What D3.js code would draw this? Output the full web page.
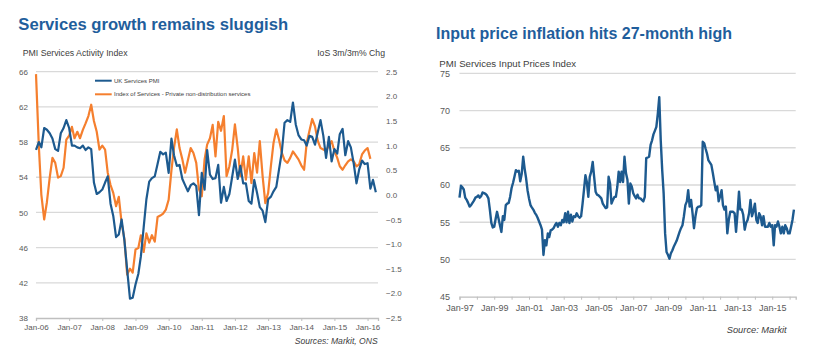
<!DOCTYPE html>
<html><head><meta charset="utf-8">
<script src="https://cdn.jsdelivr.net/npm/d3@7"></script>
<style>
body{margin:0;background:#fff;}
svg{display:block;font-family:"Liberation Sans",Arial,sans-serif;}
</style></head><body>
<svg id="c" width="818" height="359"></svg>
<script>
// ---------------- DATA ----------------
const pmiStart = "Jan-06";
const pmiValues = [
 57.1,58.0,57.4,59.6,59.4,59.0,58.4,57.2,57.0,59.0,59.6,60.5,
 59.6,57.6,57.6,57.4,57.3,57.6,57.1,57.4,57.2,53.4,52.1,52.3,
 52.6,53.4,54.1,51.0,49.6,47.2,47.5,49.2,46.8,43.5,40.2,40.3,
 41.8,43.0,45.0,48.3,51.5,53.5,53.9,54.1,55.5,56.9,56.6,56.8,
 54.5,58.4,56.5,55.3,55.4,53.8,53.1,52.4,53.1,53.3,53.0,49.7,
 54.5,52.6,57.1,54.3,53.8,53.9,55.4,51.1,52.9,51.3,52.1,54.0,
 56.0,53.8,55.3,53.3,53.3,51.3,51.0,53.7,52.2,50.6,50.2,48.9,
 51.5,51.8,52.4,52.9,54.9,56.9,60.2,60.5,60.3,62.5,60.0,58.8,
 58.3,58.2,57.6,58.7,58.6,57.7,59.1,60.5,58.7,56.2,58.6,55.8,
 57.2,56.7,58.9,59.5,56.5,58.1,57.4,55.6,53.3,54.9,55.9,55.5,
 55.6,52.7,53.7,52.3
];
const iosStart = "Jan-06";
const iosValues = [
 2.45,1.00,0.00,-0.50,-0.15,0.35,0.75,0.65,0.35,0.38,0.55,1.12,
 1.20,1.38,1.15,1.28,1.15,1.32,1.45,1.60,1.83,1.50,1.28,0.92,
 1.00,0.92,0.45,0.20,0.04,-0.23,-0.04,-0.57,-0.90,-1.62,-1.50,-1.58,
 -1.11,-1.08,-0.82,-1.16,-0.78,-0.97,-0.82,-0.95,-0.45,-0.42,-0.38,-0.30,
 -0.10,0.50,0.95,1.33,0.95,0.72,0.45,0.70,0.95,0.85,0.65,0.11,
 -0.03,0.72,1.02,1.15,1.42,0.78,1.48,1.30,1.60,0.38,0.58,0.90,
 1.43,0.95,0.38,0.78,0.31,0.78,0.24,0.85,0.45,1.09,0.38,-0.17,
 0.04,0.60,1.05,1.33,1.12,0.85,0.70,0.65,0.75,0.88,0.80,0.72,
 0.60,0.51,1.05,1.30,1.54,1.39,1.10,0.95,0.92,0.89,1.00,1.09,
 0.89,0.75,0.58,0.51,0.60,0.68,0.72,0.68,0.58,0.62,0.82,0.90,
 0.95,0.73
];
const priceStart = "Jan-97";
const priceValues = [
 58.3,59.9,59.7,59.4,58.3,58.0,57.6,57.1,57.3,57.6,57.9,58.3,
 58.4,58.6,58.3,58.5,59.0,58.9,58.8,58.6,58.2,56.7,54.9,54.3,
 54.4,55.5,56.4,55.5,54.6,53.7,55.8,55.3,57.3,57.5,57.6,58.4,
 59.6,60.3,61.1,62.0,61.8,61.9,60.5,61.5,63.8,62.2,60.9,59.3,
 58.2,57.3,57.0,56.7,56.3,56.0,55.6,55.1,54.6,54.0,50.6,52.6,
 51.9,53.5,53.0,53.9,54.0,54.2,54.6,54.9,54.4,54.9,54.6,55.3,
 55.0,56.2,55.0,56.4,54.9,56.0,55.1,55.8,55.7,56.2,55.8,55.6,
 55.8,57.5,59.3,61.3,60.4,58.4,61.1,61.8,63.1,61.1,59.1,58.7,
 58.6,58.4,58.2,57.5,57.2,56.9,57.0,61.1,60.2,57.5,58.0,58.4,
 58.4,59.8,61.8,60.4,61.8,60.4,63.8,61.6,60.7,57.5,60.2,59.8,
 58.9,58.5,58.2,58.7,58.2,58.2,58.0,57.8,58.4,63.6,63.7,63.8,
 65.4,66.0,66.8,67.3,67.8,69.6,71.8,66.0,62.0,58.9,53.5,51.0,
 50.6,50.1,50.8,51.2,51.7,52.1,52.5,53.1,53.7,54.2,54.6,55.8,
 57.3,57.8,59.3,57.1,58.0,56.2,54.2,55.8,56.9,57.1,57.1,57.3,
 65.8,65.6,64.9,64.2,63.3,63.0,62.7,61.6,60.4,59.3,59.8,57.8,
 58.5,59.3,57.3,56.7,57.1,53.5,55.3,56.4,56.4,56.4,56.2,53.7,
 56.2,59.1,56.7,56.7,56.0,54.0,54.9,55.3,56.2,58.0,55.8,56.5,
 57.5,55.3,54.9,56.2,55.8,54.6,55.8,54.4,54.4,54.4,54.9,54.4,
 54.6,51.9,54.6,54.4,55.1,54.4,53.5,54.4,53.5,54.6,54.2,53.5,
 53.5,54.4,55.3,56.7
];
const leftYTicks = [38,42,46,50,54,58,62,66];
const leftY2Ticks = [-2.5,-2.0,-1.5,-1.0,-0.5,0.0,0.5,1.0,1.5,2.0,2.5];
const leftXTicks = ["Jan-06","Jan-07","Jan-08","Jan-09","Jan-10","Jan-11","Jan-12","Jan-13","Jan-14","Jan-15","Jan-16"];
const rightYTicks = [45,50,55,60,65,70,75];
const rightXLabels = ["Jan-97","Jan-99","Jan-01","Jan-03","Jan-05","Jan-07","Jan-09","Jan-11","Jan-13","Jan-15"];
const seriesNames = ["UK Services PMI","Index of Services - Private non-distribution services"];

// ---------------- DRAW ----------------
const parse = d3.timeParse("%b-%y");
const fmt = d3.timeFormat("%b-%y");
const monthly = (start, vals) => vals.map((v,i)=>({d:d3.timeMonth.offset(parse(start), i), v}));
const svg = d3.select("#c");
const BLUE = "#1d5a8f", ORANGE = "#f57f2e", TITLE = "#1f5e9c", GRID = "#d9d9d9", TXT = "#595959";

function fit(sel, w){
  const l = sel.node().getComputedTextLength();
  sel.attr("font-size", parseFloat(sel.attr("font-size"))*w/l);
}
function txt(x,y,s,size,opts={}){
  const t = svg.append("text").attr("x",x).attr("y",y).text(s)
    .attr("font-size",size).attr("fill",opts.fill||TXT)
    .attr("text-anchor",opts.anchor||"start");
  if(opts.bold) t.attr("font-weight","bold");
  if(opts.italic) t.attr("font-style","italic");
  if(opts.w) fit(t, opts.w);
  return t;
}

// ===== Left chart =====
const xL = d3.scaleTime().domain([parse("Jan-06"), new Date(2016,3,25)]).range([36,378]);
const yL = d3.scaleLinear().domain([38,66]).range([318,71.7]);
const yL2 = d3.scaleLinear().domain([-2.5,2.5]).range([318,71.7]);

txt(18.3,30,"Services growth remains sluggish",15,{fill:TITLE,bold:true,w:270});
txt(22.7,56,"PMI Services Activity Index",8,{fill:"#404040",w:105});
txt(385,56,"IoS 3m/3m% Chg",8,{fill:"#404040",anchor:"end",w:68});

const gL = svg.append("g");
gL.selectAll("line.grid").data(leftYTicks.slice(1)).join("line")
  .attr("x1",36).attr("x2",378).attr("y1",d=>yL(d)).attr("y2",d=>yL(d))
  .attr("stroke",GRID).attr("stroke-width",1.3);

const axL = svg.append("g").attr("transform","translate(36,0)")
  .call(d3.axisLeft(yL).tickValues(leftYTicks).tickSize(0).tickPadding(8));
axL.select(".domain").remove();
axL.selectAll("text").attr("font-size",8).attr("fill",TXT).attr("font-family",null);

const axR = svg.append("g").attr("transform","translate(378,0)")
  .call(d3.axisRight(yL2).tickValues(leftY2Ticks).tickSize(0).tickPadding(8).tickFormat(d3.format(".1f")));
axR.select(".domain").remove();
axR.selectAll("text").attr("font-size",8).attr("fill",TXT).attr("font-family",null);

const axB = svg.append("g").attr("transform","translate(0,318)")
  .call(d3.axisBottom(xL).tickValues(leftXTicks.map(parse)).tickFormat(fmt).tickSize(3).tickPadding(3));
axB.select(".domain").attr("stroke","#bfbfbf").attr("stroke-width",1.3);
axB.selectAll(".tick line").attr("stroke","#bfbfbf");
axB.selectAll("text").attr("font-size",8).attr("fill",TXT).attr("font-family",null);

const lineL = d3.line().x(d=>xL(d.d)).y(d=>yL(d.v));
const lineL2 = d3.line().x(d=>xL(d.d)).y(d=>yL2(d.v));
svg.append("path").datum(monthly(iosStart,iosValues)).attr("d",lineL2)
  .attr("fill","none").attr("stroke",ORANGE).attr("stroke-width",2.2).attr("stroke-linejoin","round");
svg.append("path").datum(monthly(pmiStart,pmiValues)).attr("d",lineL)
  .attr("fill","none").attr("stroke",BLUE).attr("stroke-width",2.2).attr("stroke-linejoin","round");

// legend
[[BLUE,80.7],[ORANGE,94.3]].forEach(([c,y],i)=>{
  svg.append("line").attr("x1",95).attr("x2",111.7).attr("y1",y).attr("y2",y)
    .attr("stroke",c).attr("stroke-width",2);
  txt(114,y+2.1,seriesNames[i],6,{fill:"#404040"});
});

txt(377.7,344,"Sources: Markit, ONS",8,{fill:"#404040",anchor:"end",italic:true,w:83});

// ===== Right chart =====
const xR = d3.scaleTime().domain([parse("Jan-97"), new Date(2016,4,8)]).range([459.5,795.7]);
const yR = d3.scaleLinear().domain([45,75]).range([296.7,73.3]);

txt(436,39.3,"Input price inflation hits 27-month high",15,{fill:TITLE,bold:true,w:296});
txt(439.3,66.5,"PMI Services  Input  Prices  Index",8,{fill:"#404040",w:137});

svg.append("g").selectAll("line").data(rightYTicks.slice(1)).join("line")
  .attr("x1",459.5).attr("x2",795.7).attr("y1",d=>yR(d)).attr("y2",d=>yR(d))
  .attr("stroke",GRID).attr("stroke-width",1.3);

const axRL = svg.append("g").attr("transform","translate(459.5,0)")
  .call(d3.axisLeft(yR).tickValues(rightYTicks).tickSize(0).tickPadding(9.5));
axRL.select(".domain").remove();
axRL.selectAll("text").attr("font-size",9).attr("fill",TXT).attr("font-family",null);

const labelSet = new Set(rightXLabels);
const yearTicks = d3.timeYear.range(parse("Jan-97"), new Date(2016,1,1));
const axRB = svg.append("g").attr("transform","translate(0,296.7)")
  .call(d3.axisBottom(xR).tickValues(yearTicks).tickFormat(d=>labelSet.has(fmt(d))?fmt(d):"").tickSize(3).tickPadding(5));
axRB.select(".domain").attr("stroke","#bfbfbf").attr("stroke-width",1.3);
axRB.selectAll(".tick line").attr("stroke","#bfbfbf");
axRB.selectAll("text").attr("font-size",9).attr("fill",TXT).attr("font-family",null);

svg.append("path").datum(monthly(priceStart,priceValues))
  .attr("d",d3.line().x(d=>xR(d.d)).y(d=>yR(d.v)))
  .attr("fill","none").attr("stroke",BLUE).attr("stroke-width",2.4).attr("stroke-linejoin","round");

txt(786.7,333,"Source: Markit",8,{fill:"#404040",anchor:"end",italic:true,w:60});
</script>
</body></html>
